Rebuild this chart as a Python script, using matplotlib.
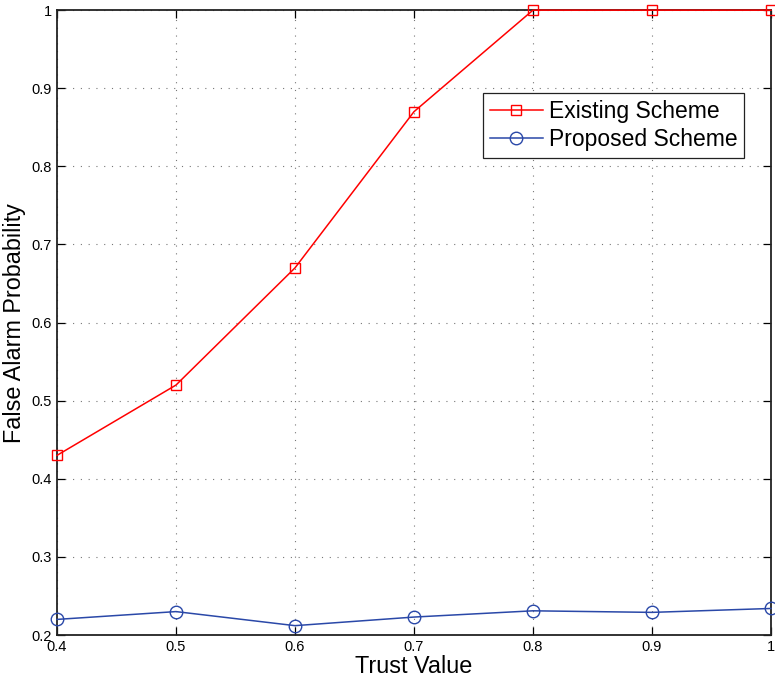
import matplotlib
matplotlib.use("Agg")
import matplotlib.pyplot as plt

plt.rcParams["font.family"] = ["Liberation Sans", "DejaVu Sans"]

trust = [0.4, 0.5, 0.6, 0.7, 0.8, 0.9, 1.0]
existing = [0.43, 0.52, 0.67, 0.87, 1.0, 1.0, 1.0]
proposed = [0.220, 0.230, 0.212, 0.223, 0.231, 0.229, 0.234]

xticks = [0.4, 0.5, 0.6, 0.7, 0.8, 0.9, 1.0]
xticklabels = ["0.4", "0.5", "0.6", "0.7", "0.8", "0.9", "1"]
yticks = [0.2, 0.3, 0.4, 0.5, 0.6, 0.7, 0.8, 0.9, 1.0]
yticklabels = ["0.2", "0.3", "0.4", "0.5", "0.6", "0.7", "0.8", "0.9", "1"]

fig = plt.figure(figsize=(7.75, 6.77), dpi=100)
ax = fig.add_axes([0.0735, 0.062, 0.9213, 0.923])

ax.plot(trust, existing, color="#ff0000", marker="s", markersize=7,
        markerfacecolor="none", markeredgecolor="#ff0000", linewidth=1.1,
        label="Existing Scheme", clip_on=False, zorder=3)
ax.plot(trust, proposed, color="#2a48a8", marker="o", markersize=9,
        markerfacecolor="none", markeredgecolor="#2a48a8", linewidth=1.1,
        label="Proposed Scheme", clip_on=False, zorder=3)

ax.set_xlim(0.4, 1.0)
ax.set_ylim(0.2, 1.0)
ax.set_xticks(xticks)
ax.set_xticklabels(xticklabels)
ax.set_yticks(yticks)
ax.set_yticklabels(yticklabels)
ax.tick_params(direction="in", top=True, right=True, labelsize=10.5, length=6,
               width=0.9, pad=3.5)
ax.grid(True, linestyle=(0, (1, 6)), color="#777777", linewidth=0.8)
for s in ax.spines.values():
    s.set_linewidth(1.3)
    s.set_color("#222222")

ax.set_xlabel("Trust Value", fontsize=16.8, va="bottom")
ax.xaxis.set_label_coords(0.5, -0.068)
ax.set_ylabel("False Alarm Probability", fontsize=16.8, labelpad=4)

leg = ax.legend(loc="upper left", bbox_to_anchor=(0.597, 0.867), fontsize=16.5,
                fancybox=False, edgecolor="#222222", framealpha=1,
                borderaxespad=0, handlelength=2.3, labelspacing=0.2,
                borderpad=0.3, handletextpad=0.25, markerscale=1.0)
leg.get_frame().set_linewidth(0.9)

fig.savefig("out.png", dpi=100)
